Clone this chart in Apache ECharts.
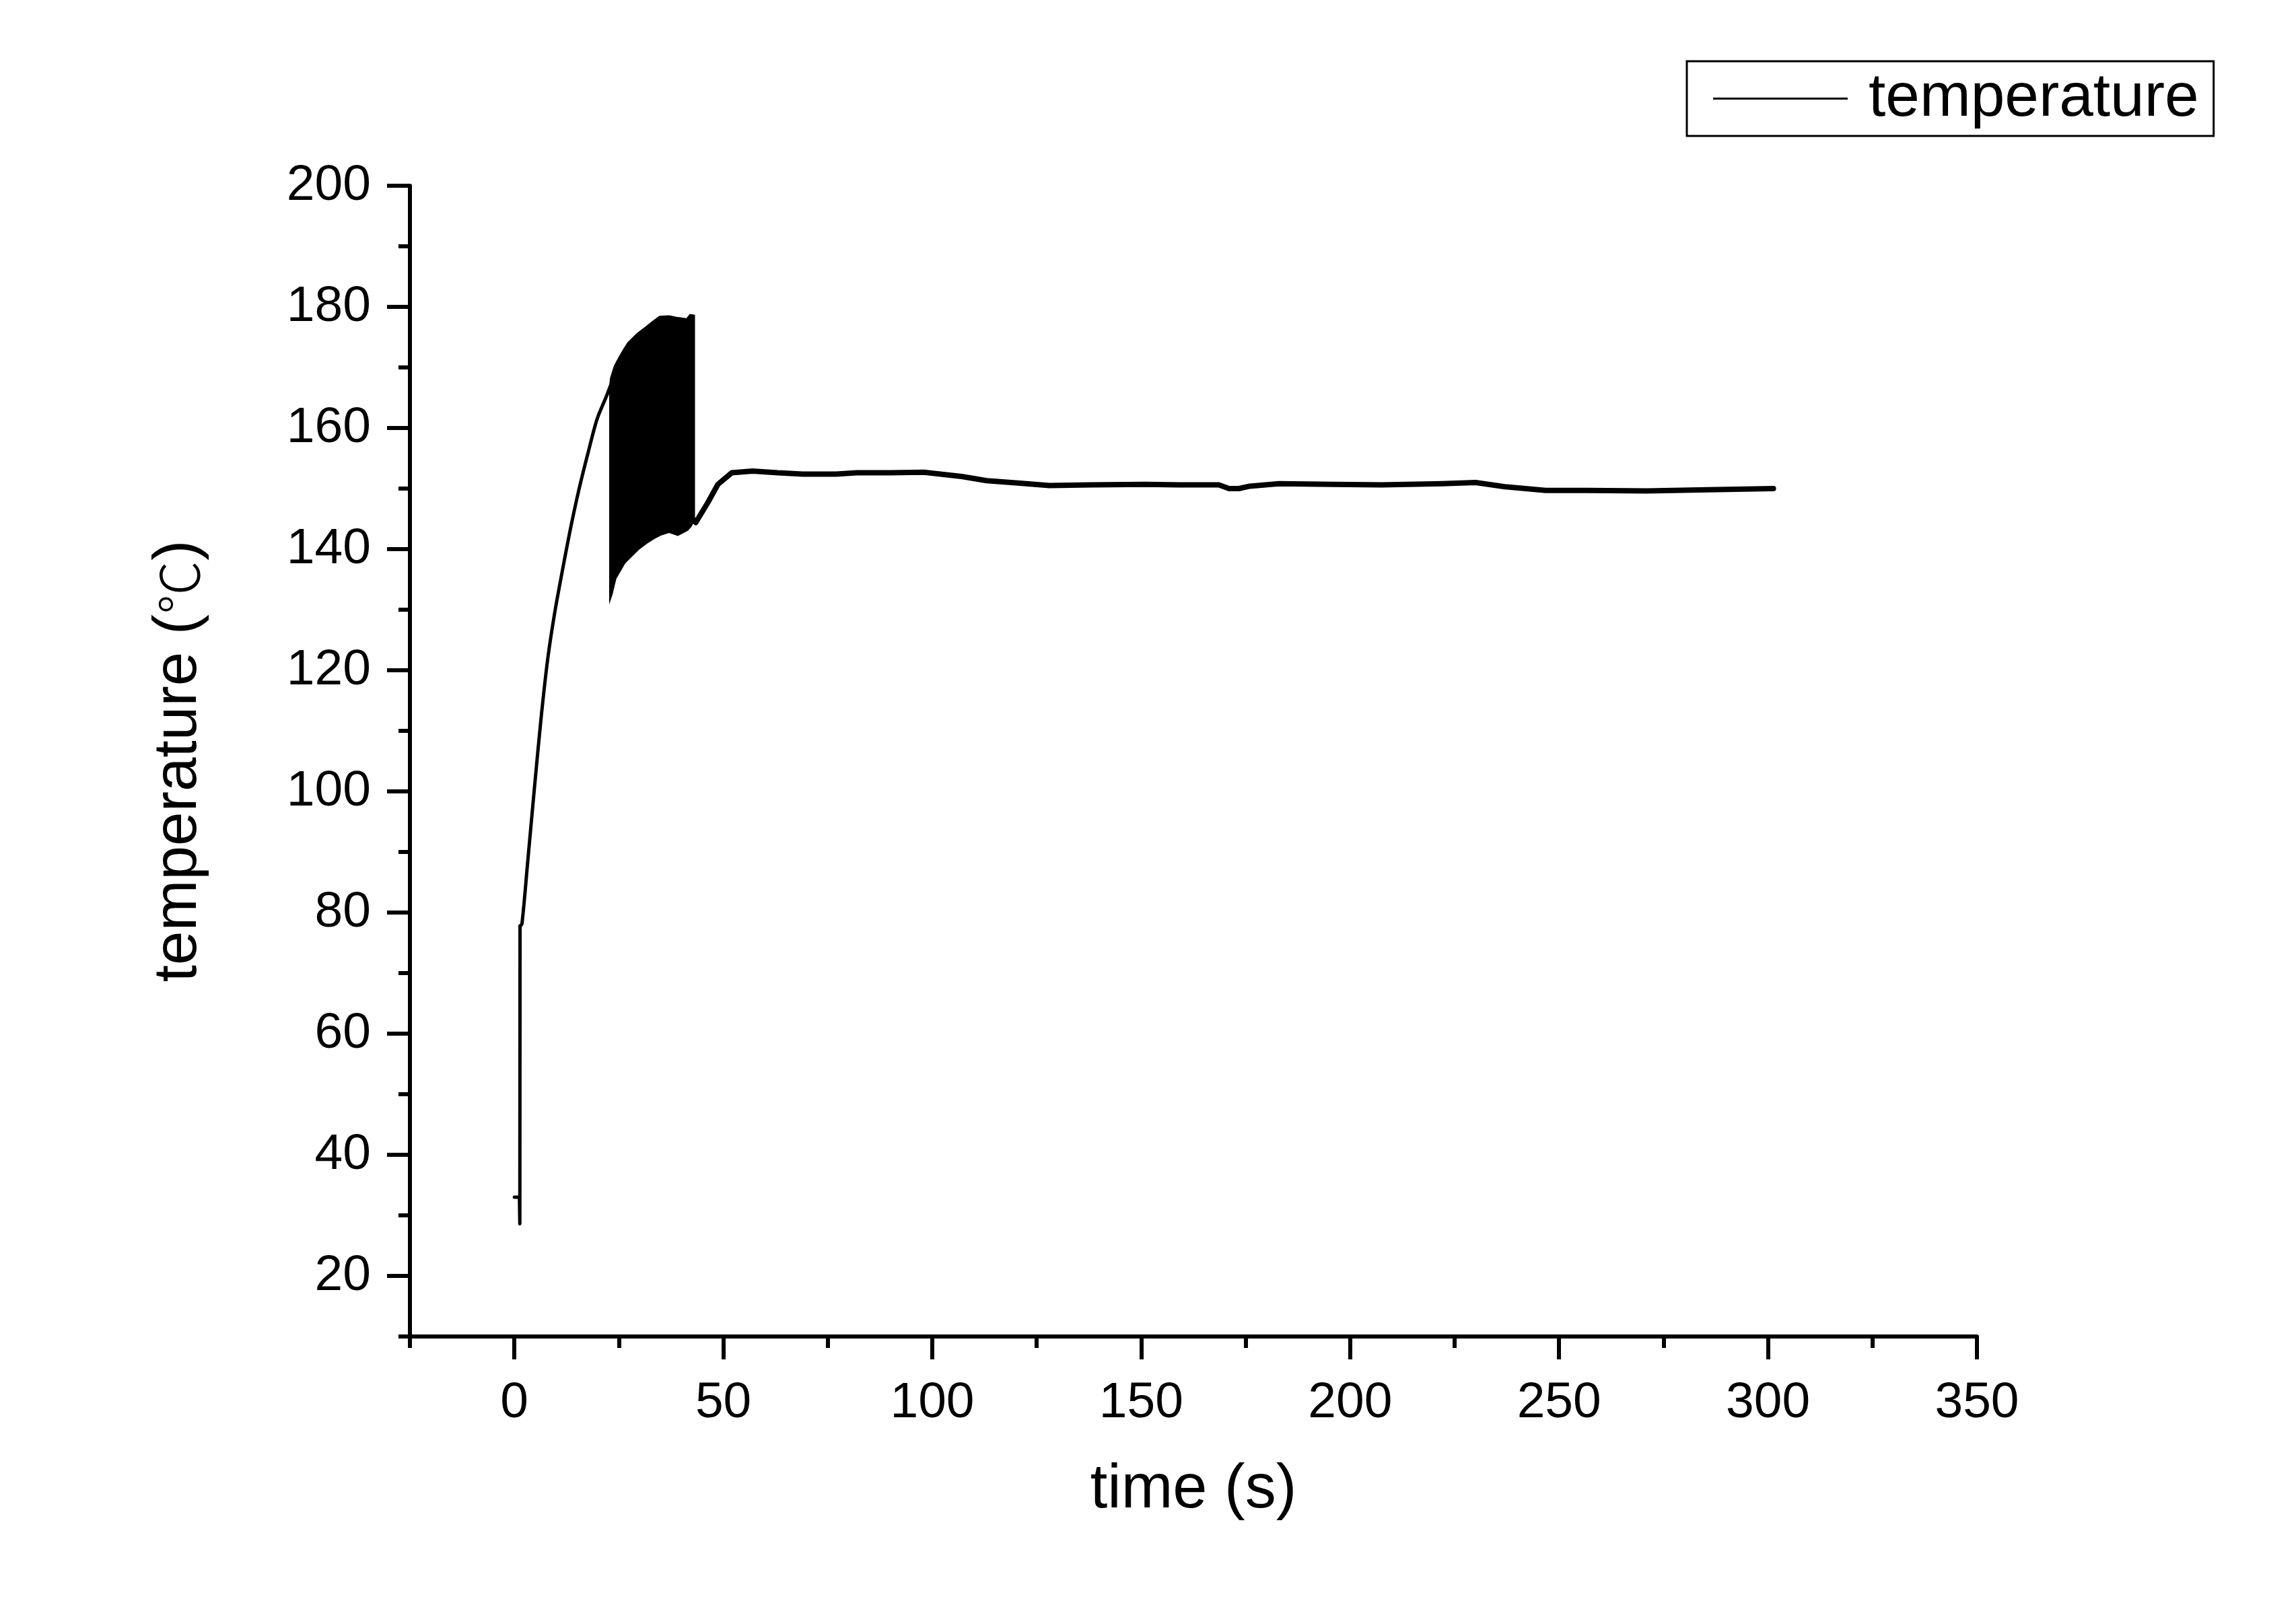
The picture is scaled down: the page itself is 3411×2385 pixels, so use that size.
<!DOCTYPE html>
<html>
<head>
<meta charset="utf-8">
<script src="https://cdn.jsdelivr.net/npm/echarts@6/dist/echarts.min.js"></script>
<style>
html,body{margin:0;padding:0;background:#fff;}
#main{width:3411px;height:2385px;}
</style>
</head>
<body>
<div id="main"></div>
<script>
// ---- data ----
const seriesName = 'temperature';

// start-up (s, °C)
const startTime = [0, 1.2, 1.3, 1.35];
const startTemp = [33, 33, 28.6, 77.8];

// heating ramp (s, °C)
const rampTime = [1.35, 1.8, 3.2, 4.8, 6.4, 8.0, 9.6, 11.2, 13.4, 15.5, 17.7, 19.8, 22.0, 23.0];
const rampTemp = [77.8, 78.1, 88.5, 100.6, 112.2, 122.0, 129.3, 135.4, 143.3, 150.0, 156.1, 161.5, 165.2, 167.0];

// fast oscillation band (envelopes)
const bandTime  = [23.0, 23.2, 24.1, 25.2, 26.3, 27.3, 29.5, 31.6, 33.2, 34.8, 37.0, 39.1, 41.3, 42.1, 42.9];
const bandUpper = [167.0, 168.2, 170.2, 171.6, 172.9, 174.0, 175.5, 176.6, 177.5, 178.3, 178.4, 178.1, 177.9, 178.6, 178.5];
const bandLower = [132.2, 132.6, 135.2, 136.5, 137.8, 138.5, 140.0, 141.1, 141.8, 142.4, 142.9, 142.4, 143.2, 143.8, 144.8];

// steady part
const flatTime = [42.9, 43.4, 46.3, 48.7, 52.0, 57, 63, 69, 77, 82, 90, 98, 103, 107, 113, 121, 128, 138, 151, 159, 168.6, 171, 173.4, 176, 183, 195.8, 207.5, 222, 230, 237, 246.8, 256.6, 271, 285.7, 301.3];
const flatTemp = [144.8, 144.4, 147.7, 150.7, 152.6, 152.9, 152.6, 152.4, 152.4, 152.6, 152.6, 152.7, 152.3, 152.0, 151.3, 150.9, 150.5, 150.6, 150.7, 150.6, 150.6, 150.0, 150.0, 150.4, 150.8, 150.7, 150.6, 150.8, 151.0, 150.3, 149.7, 149.7, 149.6, 149.8, 150.0];

// axis ticks / labels
const xTickLabels = [0, 50, 100, 150, 200, 250, 300, 350];
const yTickLabels = [20, 40, 60, 80, 100, 120, 140, 160, 180, 200];

const zip = (a, b) => a.map((v, i) => [v, b[i]]);

const FONT = "'Liberation Sans', Arial, sans-serif";
const CJK = "'Noto Sans CJK SC', 'Noto Sans CJK JP', serif";
const BLACK = '#000';

const chart = echarts.init(document.getElementById('main'), null, { renderer: 'canvas' });

const lineSeries = (data, width, smooth) => ({
  name: seriesName, type: 'line', xAxisIndex: 0, yAxisIndex: 0,
  data: data, symbol: 'none', smooth: smooth,
  lineStyle: { color: BLACK, width: width, join: 'round', cap: 'round' },
  itemStyle: { color: BLACK },
  z: 3
});

const option = {
  backgroundColor: '#fff',
  animation: false,
  grid: { left: 609, right: 474, top: 276, bottom: 399, containLabel: false },
  legend: {
    data: [seriesName],
    left: 2506,
    top: 91,
    padding: [10, 22, 10, 39],
    borderColor: BLACK,
    borderWidth: 3,
    borderRadius: 0,
    icon: 'rect',
    itemWidth: 200,
    itemHeight: 3,
    itemStyle: { color: BLACK },
    textStyle: { fontSize: 91, color: BLACK, fontFamily: FONT, padding: [0, 0, 0, 26] },
    selectedMode: false
  },
  xAxis: [
    {
      type: 'value', min: -25, max: 350, interval: 25, position: 'bottom',
      name: 'time (s)', nameLocation: 'middle', nameGap: 183,
      nameTextStyle: { fontSize: 92, color: BLACK, fontFamily: FONT },
      axisLine: { show: true, onZero: false, lineStyle: { color: BLACK, width: 6 } },
      axisTick: { show: true, inside: false, length: 34, customValues: xTickLabels, lineStyle: { color: BLACK, width: 6 } },
      axisLabel: { show: true, margin: 62, fontSize: 75, color: BLACK, fontFamily: FONT, customValues: xTickLabels },
      splitLine: { show: false }
    },
    {
      type: 'value', min: -25, max: 350, interval: 25, position: 'bottom',
      axisLine: { show: false, onZero: false },
      axisTick: { show: true, inside: false, length: 17, lineStyle: { color: BLACK, width: 6 } },
      axisLabel: { show: false },
      splitLine: { show: false }
    }
  ],
  yAxis: [
    {
      type: 'value', min: 10, max: 200, interval: 10, position: 'left',
      name: '{a|temperature (}{b|\u2103}{a|)}', nameLocation: 'middle', nameGap: 298,
      nameTextStyle: {
        fontSize: 91, color: BLACK, fontFamily: FONT,
        rich: {
          a: { fontSize: 91, color: BLACK, fontFamily: FONT },
          b: { fontSize: 80, color: BLACK, fontFamily: CJK, fontWeight: 300 }
        }
      },
      axisLine: { show: true, onZero: false, lineStyle: { color: BLACK, width: 6 } },
      axisTick: { show: true, inside: false, length: 34, customValues: yTickLabels, lineStyle: { color: BLACK, width: 6 } },
      axisLabel: { show: true, margin: 58, fontSize: 75, color: BLACK, fontFamily: FONT, customValues: yTickLabels },
      splitLine: { show: false }
    },
    {
      type: 'value', min: 10, max: 200, interval: 10, position: 'left',
      axisLine: { show: false, onZero: false },
      axisTick: { show: true, inside: false, length: 17, lineStyle: { color: BLACK, width: 6 } },
      axisLabel: { show: false },
      splitLine: { show: false }
    }
  ],
  series: [
    lineSeries(zip(startTime, startTemp), 5, false),
    lineSeries(zip(rampTime, rampTemp), 5, 0.3),
    {
      name: 'oscillation', type: 'custom', xAxisIndex: 0, yAxisIndex: 0,
      coordinateSystem: 'cartesian2d',
      data: [[bandTime[0], bandLower[0]]],
      renderItem: function (params, api) {
        const pts = [];
        for (let i = 0; i < bandTime.length; i++) pts.push(api.coord([bandTime[i], bandUpper[i]]));
        for (let i = bandTime.length - 1; i >= 0; i--) pts.push(api.coord([bandTime[i], bandLower[i]]));
        return { type: 'polygon', shape: { points: pts }, style: { fill: BLACK, stroke: BLACK, lineWidth: 4 } };
      },
      z: 2
    },
    lineSeries(zip(flatTime, flatTemp), 8, false)
  ]
};

chart.setOption(option);
</script>
</body>
</html>
